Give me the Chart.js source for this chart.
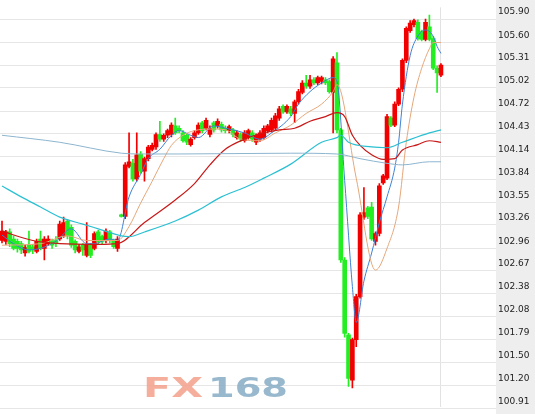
<!DOCTYPE html>
<html>
<head>
<meta charset="utf-8">
<script src="https://cdn.jsdelivr.net/npm/chart.js@4"></script>
<style>
  html, body { margin: 0; padding: 0; background: #fff; overflow: hidden; }
  canvas { display: block; }
</style>
</head>
<body>
<canvas id="chart" width="535" height="414"></canvas>
<script>
// candles, oldest first
const opens = [
  103.06,103.05,103.17,103.08,103.05,103.02,102.90,103.00,102.98,102.92,
  103.08,102.96,103.02,103.06,103.06,103.08,103.12,103.31,103.23,103.05,
  102.92,103.00,102.87,103.00,102.96,103.17,103.11,103.06,103.17,103.06,
  102.96,103.39,103.37,104.01,104.05,103.85,104.17,103.95,104.11,104.23,
  104.26,104.42,104.36,104.41,104.42,104.53,104.50,104.44,104.41,104.29,
  104.38,104.44,104.57,104.50,104.42,104.57,104.53,104.55,104.50,104.47,
  104.48,104.38,104.42,104.34,104.38,104.44,104.32,104.36,104.38,104.47,
  104.48,104.50,104.63,104.78,104.71,104.75,104.69,104.84,104.96,105.08,
  105.04,105.12,105.08,105.10,105.12,105.10,104.96,105.34,104.48,102.81,
  101.85,101.27,101.79,102.34,103.36,103.48,103.49,103.05,103.15,103.80,
  103.86,104.63,104.54,104.81,105.00,105.37,105.75,105.83,105.86,105.74,
  105.64,105.80,105.65,105.27,105.18
];
const highs = [
  103.31,103.19,103.21,103.12,103.08,103.05,103.00,103.18,103.01,103.08,
  103.18,103.11,103.12,103.08,103.11,103.31,103.36,103.33,103.26,103.07,
  103.01,103.02,103.29,103.02,103.17,103.19,103.13,103.21,103.19,103.08,
  103.11,103.40,104.06,104.44,104.10,104.44,104.20,104.13,104.28,104.31,
  104.44,104.59,104.43,104.49,104.57,104.63,104.53,104.47,104.43,104.38,
  104.47,104.57,104.59,104.63,104.53,104.59,104.62,104.58,104.53,104.54,
  104.50,104.47,104.44,104.47,104.49,104.47,104.43,104.47,104.53,104.55,
  104.63,104.69,104.78,104.80,104.80,104.78,104.86,105.00,105.11,105.18,
  105.18,105.15,105.17,105.17,105.15,105.12,105.42,105.47,104.50,102.84,
  101.87,101.81,102.37,103.42,103.74,103.50,103.55,103.17,103.79,103.91,
  104.68,104.65,104.84,105.02,105.39,105.80,105.88,105.90,105.89,105.76,
  105.90,105.95,105.68,105.30,105.33
];
const lows = [
  103.03,103.01,102.98,102.94,102.91,102.89,102.86,102.90,102.89,102.90,
  102.94,102.81,103.00,102.96,102.98,103.06,103.10,103.08,102.97,102.90,
  102.90,102.87,102.85,102.84,102.94,103.02,103.02,103.03,103.03,102.96,
  102.92,103.36,103.34,103.99,103.82,103.82,103.92,103.82,104.08,104.21,
  104.23,104.33,104.33,104.38,104.39,104.42,104.44,104.32,104.29,104.27,
  104.36,104.42,104.44,104.48,104.39,104.45,104.50,104.45,104.44,104.44,
  104.39,104.36,104.33,104.32,104.36,104.33,104.29,104.33,104.36,104.44,
  104.45,104.48,104.60,104.69,104.69,104.66,104.57,104.81,104.94,105.01,
  105.01,105.06,105.06,105.07,105.06,104.95,104.44,104.44,102.78,101.82,
  101.19,101.17,101.70,102.32,103.33,103.34,103.06,103.00,103.12,103.78,
  103.84,104.52,104.52,104.79,104.97,105.34,105.73,105.80,105.63,105.62,
  105.62,105.62,105.25,104.96,105.16
];
const closes = [
  103.18,103.17,103.02,102.96,102.96,102.94,102.97,102.92,102.94,103.05,
  102.96,103.08,103.08,103.00,103.02,103.27,103.29,103.12,103.00,102.94,
  102.98,102.94,103.00,102.87,103.15,103.05,103.05,103.18,103.06,102.98,
  103.08,103.37,104.03,104.07,103.85,104.16,103.95,104.11,104.26,104.28,
  104.42,104.36,104.41,104.47,104.54,104.44,104.47,104.34,104.32,104.36,
  104.44,104.54,104.47,104.60,104.50,104.48,104.59,104.48,104.47,104.52,
  104.42,104.44,104.36,104.44,104.47,104.36,104.41,104.44,104.50,104.53,
  104.60,104.66,104.75,104.71,104.78,104.69,104.84,104.97,105.08,105.04,
  105.12,105.08,105.15,105.15,105.08,104.97,105.39,104.48,102.81,101.87,
  101.29,101.79,102.34,103.39,103.42,103.37,103.08,103.15,103.76,103.89,
  104.65,104.54,104.81,105.00,105.37,105.78,105.85,105.88,105.65,105.64,
  105.86,105.64,105.27,105.21,105.31
];

// moving averages: [candle index, price]
const ma5 = [[0,103.13],[3,103.02],[7,102.94],[10,102.96],[14,103.05],[18,103.21],[22,103.02],[24,103.02],
  [28,103.08],[30,103.06],[33,103.62],[36,103.91],[38,104.11],[41,104.23],[44,104.41],[46,104.47],[49,104.41],
  [51,104.38],[55,104.53],[59,104.49],[63,104.44],[67,104.36],[70,104.44],[75,104.65],[77,104.81],[80,104.97],
  [83,105.08],[86,105.15],[87,105.10],[89,103.83],[91,102.47],[92,102.01],[94,102.54],[96,102.90],[98,103.29],
  [100,103.62],[102,103.99],[103,104.32],[104,104.81],[106,105.43],[108,105.68],[110,105.76],[112,105.68],
  [113,105.55],[114,105.46]];
const ma10 = [[0,103.00],[10,103.02],[17,103.12],[22,103.06],[30,103.06],[33,103.24],[36,103.54],[39,103.82],
  [42,104.11],[44,104.28],[47,104.41],[50,104.47],[54,104.49],[58,104.48],[62,104.36],[67,104.34],[71,104.44],
  [75,104.54],[79,104.69],[83,104.81],[86,104.97],[87,105.06],[92,103.86],[97,102.68],[100,102.96],[103,103.49],
  [105,104.32],[107,104.90],[109,105.27],[111,105.52],[112,105.60],[114,105.60]];
const ma20 = [[0,103.18],[8,103.06],[15,103.02],[25,103.01],[30,103.02],[37,103.29],[45,103.58],[50,103.79],
  [54,104.03],[58,104.23],[63,104.36],[67,104.43],[72,104.48],[76,104.50],[80,104.59],[84,104.65],[87,104.70],
  [89,104.65],[91,104.41],[93,104.28],[96,104.16],[99,104.10],[102,104.11],[104,104.22],[108,104.29],
  [111,104.34],[114,104.32]];
const ma40 = [[0,103.76],[5,103.62],[10,103.49],[15,103.36],[21,103.27],[25,103.21],[31,103.12],[33,103.11],
  [37,103.17],[45,103.31],[51,103.45],[57,103.62],[63,103.74],[68,103.86],[75,104.04],[83,104.32],[87,104.38],
  [88,104.41],[90,104.32],[96,104.26],[100,104.25],[104,104.32],[111,104.44],[114,104.48]];
const ma60 = [[0,104.41],[15,104.32],[31,104.18],[36,104.17],[46,104.17],[75,104.18],[87,104.17],[93,104.11],
  [100,104.05],[104,104.03],[111,104.07],[114,104.07]];

const yTicks = ["100.91","101.20","101.50","101.79","102.08","102.38","102.67","102.96","103.26",
  "103.55","103.84","104.14","104.43","104.72","105.02","105.31","105.60","105.90"];

const UP = "#f20000";
const DOWN = "#22ee22";
const lastIdx = opens.length - 1;

const idx = opens.map((_, i) => i);
const candleColors = idx.map(i => closes[i] >= opens[i] ? UP : DOWN);
const bodies = idx.map(i => ({ x: i, y: [Math.min(opens[i], closes[i]), Math.max(opens[i], closes[i])] }));
const wicks = idx.map(i => ({ x: i, y: [lows[i], highs[i]] }));
const toLine = pts => pts.map(p => ({ x: p[0], y: p[1] }));

function maLine(pts, color, width) {
  return {
    type: "line",
    data: toLine(pts),
    borderColor: color,
    borderWidth: width || 1,
    pointRadius: 0,
    cubicInterpolationMode: "monotone",
    order: 0
  };
}

// grey strip behind the price axis
const axisPanel = {
  id: "axisPanel",
  beforeDraw(chart) {
    const { ctx } = chart;
    const y = chart.scales.y;
    ctx.save();
    ctx.fillStyle = "#eeeeee";
    ctx.fillRect(y.left, 0, y.width, chart.height);
    ctx.restore();
  }
};

// FX168 watermark
const watermark = {
  id: "watermark",
  beforeDatasetsDraw(chart) {
    const { ctx } = chart;
    const part = (txt, color, left, width) => {
      ctx.save();
      ctx.font = "bold 27px 'DejaVu Sans'";
      const w = ctx.measureText(txt).width;
      ctx.translate(left, 397);
      ctx.scale(width / w, 1);
      ctx.fillStyle = color;
      ctx.globalAlpha = 0.85;
      ctx.fillText(txt, 0, 0);
      ctx.restore();
    };
    part("FX", "#f2a08a", 143, 60);
    part("168", "#86abc4", 208, 80);
  }
};

const config = {
  type: "bar",
  data: {
    datasets: [
      maLine(ma60, "#8db5cf"),
      maLine(ma40, "#2bc0d2", 1.2),
      maLine(ma20, "#c81818", 1.2),
      maLine(ma10, "#e6a77a"),
      maLine(ma5, "#3d82d6"),
      {
        data: wicks,
        backgroundColor: candleColors,
        barThickness: 1,
        grouped: false,
        order: 2
      },
      {
        data: bodies,
        backgroundColor: candleColors,
        barThickness: 4,
        minBarLength: 1,
        grouped: false,
        order: 1
      }
    ]
  },
  options: {
    responsive: false,
    animation: false,
    events: [],
    layout: { padding: 0 },
    plugins: { legend: { display: false }, tooltip: { enabled: false } },
    scales: {
      x: {
        type: "linear",
        offset: false,
        min: -0.52,
        max: 128.3,
        afterBuildTicks: s => { s.ticks = [{ value: lastIdx }]; },
        ticks: { display: false },
        grid: { drawTicks: false, offset: false, color: "#e2e2e2" },
        border: { display: false }
      },
      y: {
        position: "right",
        min: 100.93,
        max: 106.05,
        afterBuildTicks: s => { s.ticks = yTicks.map(t => ({ value: parseFloat(t) })); },
        afterFit: s => { s.width = 39; },
        ticks: {
          autoSkip: false,
          callback: v => v.toFixed(2),
          labelOffset: -7,
          padding: 2,
          color: "#222",
          font: { family: "DejaVu Sans", size: 9 }
        },
        grid: { drawTicks: false, color: "#e6e6e6" },
        border: { display: false }
      }
    }
  },
  plugins: [axisPanel, watermark]
};

const myChart = new Chart(document.getElementById("chart"), config);
</script>
</body>
</html>
